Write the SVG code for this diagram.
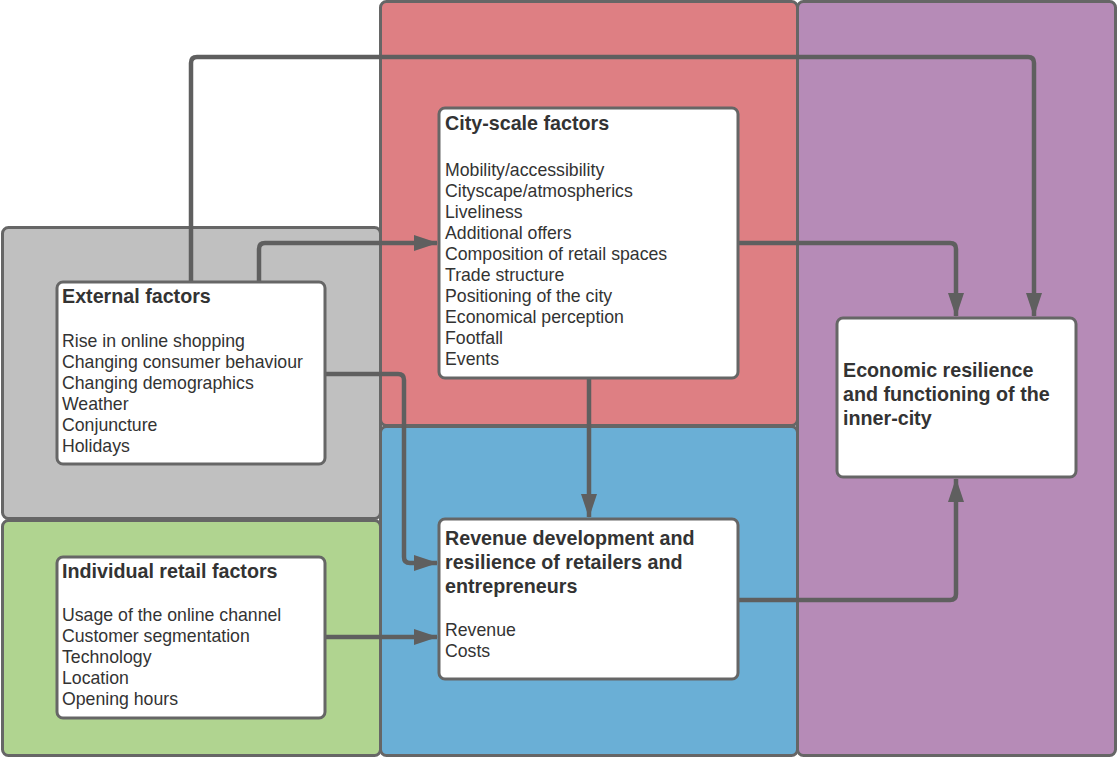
<svg xmlns="http://www.w3.org/2000/svg" width="1118" height="758" viewBox="0 0 1118 758">
<style>
.panel{stroke:#666;stroke-width:3}
.node{fill:#fff;stroke:#666;stroke-width:3}
.t{font-family:"Liberation Sans",Arial,sans-serif;font-size:17.7px;fill:#333}
.b{font-family:"Liberation Sans",Arial,sans-serif;font-size:19.7px;font-weight:bold;fill:#333}
.c{fill:none;stroke:#5f5f5f;stroke-width:4.5;stroke-linejoin:round}
</style>
<defs>
<marker id="ah" viewBox="0 0 24 16" refX="23" refY="8" markerWidth="24" markerHeight="16" markerUnits="userSpaceOnUse" orient="auto">
<path d="M0,0 L24,8 L0,16 Z" fill="#5f5f5f"/>
</marker>
</defs>
<g id="panels">
<rect id="panel-external" class="panel" x="2.5" y="227.5" width="378" height="291" rx="6" fill="#c0c0c0"/>
<rect id="panel-individual" class="panel" x="2.5" y="520.5" width="378" height="235" rx="6" fill="#b0d490"/>
<rect id="panel-city" class="panel" x="380.5" y="1.5" width="417" height="424" rx="6" fill="#de7f83"/>
<rect id="panel-revenue" class="panel" x="380.5" y="426.5" width="417" height="329" rx="6" fill="#6aafd6"/>
<rect id="panel-economic" class="panel" x="797.5" y="1.5" width="318" height="754" rx="6" fill="#b68bb7"/>
</g>
<g id="connectors">
<path class="c" d="M191,282 V63 Q191,57 197,57 H1028 Q1034,57 1034,63 V316" marker-end="url(#ah)"/>
<path class="c" d="M259,282 V249 Q259,243 265,243 H437" marker-end="url(#ah)"/>
<path class="c" d="M325,374 H398 Q404,374 404,380 V557 Q404,563 410,563 H437" marker-end="url(#ah)"/>
<path class="c" d="M589,378 V517" marker-end="url(#ah)"/>
<path class="c" d="M738,243 H950 Q956,243 956,249 V316" marker-end="url(#ah)"/>
<path class="c" d="M325,637 H437" marker-end="url(#ah)"/>
<path class="c" d="M738,600 H950 Q956,600 956,594 V479" marker-end="url(#ah)"/>
</g>
<g id="node-external">
<rect class="node" x="57" y="282" width="268" height="182" rx="6"/>
<text class="b" x="62" y="303">External factors</text>
<text class="t" x="62" y="347">Rise in online shopping</text>
<text class="t" x="62" y="368">Changing consumer behaviour</text>
<text class="t" x="62" y="389">Changing demographics</text>
<text class="t" x="62" y="410">Weather</text>
<text class="t" x="62" y="431">Conjuncture</text>
<text class="t" x="62" y="452">Holidays</text>
</g>
<g id="node-city">
<rect class="node" x="439" y="108" width="299" height="270" rx="6"/>
<text class="b" x="445" y="130">City-scale factors</text>
<text class="t" x="445" y="175.5">Mobility/accessibility</text>
<text class="t" x="445" y="196.6">Cityscape/atmospherics</text>
<text class="t" x="445" y="217.7">Liveliness</text>
<text class="t" x="445" y="238.8">Additional offers</text>
<text class="t" x="445" y="259.9">Composition of retail spaces</text>
<text class="t" x="445" y="281">Trade structure</text>
<text class="t" x="445" y="302.1">Positioning of the city</text>
<text class="t" x="445" y="323.2">Economical perception</text>
<text class="t" x="445" y="344.3">Footfall</text>
<text class="t" x="445" y="365.4">Events</text>
</g>
<g id="node-economic">
<rect class="node" x="837" y="318" width="239" height="159" rx="6"/>
<text class="b" x="843" y="377">Economic resilience</text>
<text class="b" x="843" y="401">and functioning of the</text>
<text class="b" x="843" y="425">inner-city</text>
</g>
<g id="node-revenue">
<rect class="node" x="439" y="519" width="299" height="160" rx="6"/>
<text class="b" x="445" y="545">Revenue development and</text>
<text class="b" x="445" y="569">resilience of retailers and</text>
<text class="b" x="445" y="593">entrepreneurs</text>
<text class="t" x="445" y="636">Revenue</text>
<text class="t" x="445" y="657">Costs</text>
</g>
<g id="node-individual">
<rect class="node" x="57" y="557" width="268" height="161" rx="6"/>
<text class="b" x="62" y="578">Individual retail factors</text>
<text class="t" x="62" y="621">Usage of the online channel</text>
<text class="t" x="62" y="642">Customer segmentation</text>
<text class="t" x="62" y="663">Technology</text>
<text class="t" x="62" y="684">Location</text>
<text class="t" x="62" y="705">Opening hours</text>
</g>
</svg>
